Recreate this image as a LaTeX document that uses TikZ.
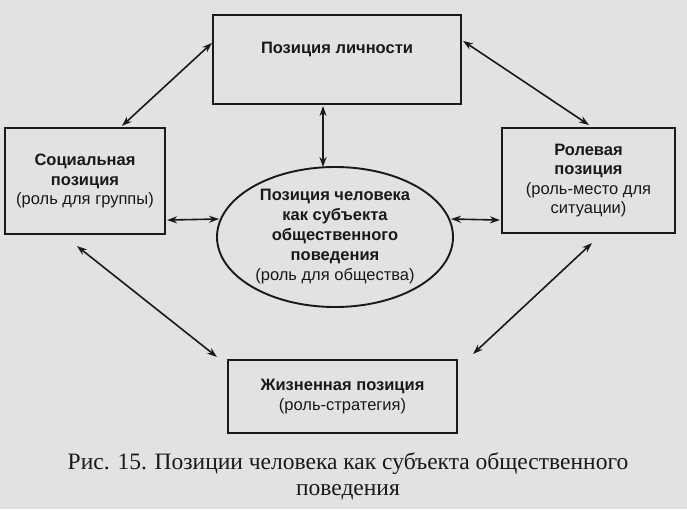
\documentclass[tikz,border=0pt]{standalone}
\usepackage{fontspec}
\setmainfont{Liberation Serif}
\newfontfamily\boxfont{Liberation Sans}
\usetikzlibrary{arrows.meta,calc,shapes.geometric}
\definecolor{paper}{RGB}{226,226,226}
\definecolor{ink}{RGB}{25,25,25}
\tikzset{
  posBox/.style={draw=ink, line width=2.1pt, text=ink, align=center,
    font=\boxfont\fontsize{16.5}{19.5}\selectfont\bfseries, inner sep=0pt},
  posCore/.style={ellipse, draw=ink, line width=1.9pt, text=ink, align=center,
    font=\boxfont\fontsize{16.5}{20}\selectfont\bfseries, inner sep=0pt,
    minimum width=236, minimum height=140},
  %% two-headed links
  posLink/.style={{Stealth[length=10pt,width=7pt]}-{Stealth[length=10pt,width=7pt]},
    line width=1.6pt, draw=ink},
  %% figure caption
  posCap/.style={font=\fontsize{23.5}{26}\selectfont, text=ink, align=center},
}

\begin{document}
\begin{tikzpicture}[x=1pt, y=-1pt]
\fill[paper] (0,0) rectangle (687,509);
\useasboundingbox (0,0) rectangle (687,509);

%% Positions
\node[posBox, minimum width=248, minimum height=89] (pTop)  at (337,59.5)  {Позиция личности\\[4pt]};
\node[posBox, minimum width=160, minimum height=106] (pSoc) at (85,181)   {Социальная\\позиция\\{\mdseries(роль для группы)}};
\node[posBox, minimum width=173, minimum height=105] (pRole) at (588.5,180.5) {Ролевая\\позиция\\{\mdseries(роль-место для}\\{\mdseries ситуации)}};
\node[posCore] (pCore) at (335,237) {Позиция человека\\как субъекта\\общественного\\поведения\\{\mdseries(роль для общества)}};
\node[posBox, minimum width=229, minimum height=73] (pLife) at (342.5,396.5) {Жизненная позиция\\{\mdseries(роль-стратегия)}};

%% Links
\draw[posLink] ($(pSoc.north west)+(118,-1)$) -- ($(pTop.north west)+(0,29)$);
\draw[posLink] ($(pTop.north east)+(1,27)$) -- ($(pRole.north west)+(88,-2)$);
\draw[posLink] ($(pTop.south)+(-14,1)$) -- ($(pCore.north)+(-12,1)$);
\draw[posLink] ($(pSoc.south east)+(1,-15)$) -- ($(pCore.west)+(3,-18)$);
\draw[posLink] ($(pCore.east)+(-3,-18)$) -- ($(pRole.south west)+(-1,-14)$);
\draw[posLink] ($(pSoc.south west)+(73,11)$) -- ($(pLife.north west)+(-10,-2)$);
\draw[posLink] ($(pRole.south west)+(91,9)$) -- ($(pLife.north east)+(15,-5)$);

%% Caption
\node[posCap] (cap) at (348,476) {Рис. 15. Позиции человека как субъекта общественного\\поведения};

\end{tikzpicture}
\end{document}
